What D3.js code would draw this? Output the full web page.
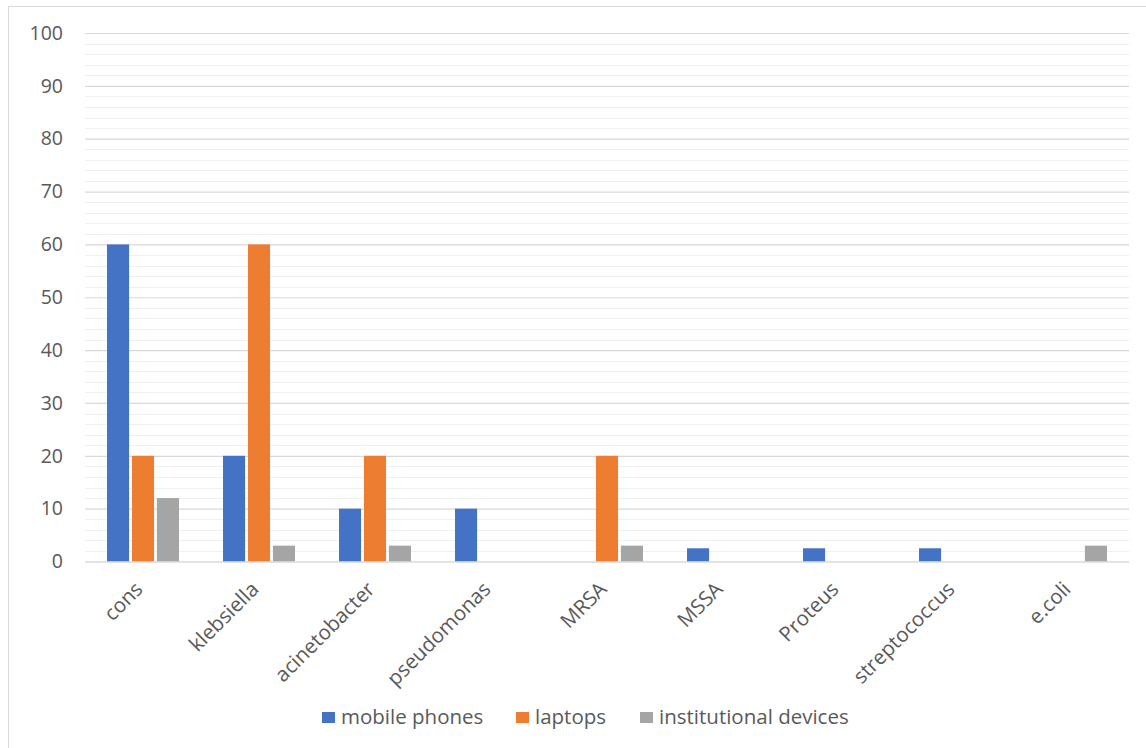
<!DOCTYPE html>
<html>
<head>
<meta charset="utf-8">
<script src="https://cdn.jsdelivr.net/npm/d3@7"></script>
<style>
  html, body { margin: 0; padding: 0; background: #fff; }
  svg { display: block; font-family: "Open Sans", "Liberation Sans", sans-serif; }
</style>
</head>
<body>
<svg id="chart" width="1146" height="748"></svg>
<script>
const categories = ["cons", "klebsiella", "acinetobacter", "pseudomonas", "MRSA", "MSSA", "Proteus", "streptococcus", "e.coli"];
const seriesNames = ["mobile phones", "laptops", "institutional devices"];
const mobilePhones = [60, 20, 10, 10, 0, 2.5, 2.5, 2.5, 0];
const laptops = [20, 60, 20, 0, 20, 0, 0, 0, 0];
const institutionalDevices = [12, 3, 3, 0, 3, 0, 0, 0, 3];
const yTicks = [0, 10, 20, 30, 40, 50, 60, 70, 80, 90, 100];
const seriesColors = ["#4472C4", "#ED7D31", "#A5A5A5"];

const seriesValues = [mobilePhones, laptops, institutionalDevices];
const data = categories.map((c, i) => ({ cat: c, vals: seriesValues.map((s, j) => ({ key: seriesNames[j], idx: j, v: s[i] })) }));

const svg = d3.select("#chart");
const W = 1146, H = 748;
const margin = { left: 85, right: 1146 - 1129, top: 33, bottom: 748 - 561.5 };

// chart border
svg.append("rect").attr("x", 8.5).attr("y", 6.5).attr("width", W + 10).attr("height", H + 10)
  .attr("fill", "none").attr("stroke", "#d9d9d9").attr("stroke-width", 1);

const x0 = d3.scaleBand().domain(categories).range([margin.left, W - margin.right])
  .paddingInner(0.33).paddingOuter(0.165);
const x1 = d3.scaleBand().domain(d3.range(seriesNames.length)).range([0, x0.bandwidth()]).padding(0.115);
const y = d3.scaleLinear().domain([0, 100]).range([H - margin.bottom, margin.top]);

// minor gridlines
const minor = d3.range(0, 101, 2).filter(v => v % 10 !== 0);
svg.append("g").selectAll("line").data(minor).join("line")
  .attr("x1", margin.left).attr("x2", W - margin.right)
  .attr("y1", d => Math.round(y(d)) + 0.5).attr("y2", d => Math.round(y(d)) + 0.5)
  .attr("stroke", "#f0f0f0").attr("stroke-width", 1);

// major gridlines + y labels via axis
const yAxis = d3.axisLeft(y).tickValues(yTicks).tickSize(-(W - margin.right - margin.left)).tickPadding(22);
const ya = svg.append("g").attr("transform", `translate(${margin.left},0)`).call(yAxis);
ya.select(".domain").remove();
ya.selectAll(".tick line").attr("stroke", "#d9d9d9").attr("stroke-width", 1.2);
ya.selectAll(".tick text").attr("fill", "#595959").style("font-size", "19.5px")
  .style("font-family", "'Open Sans', sans-serif");

// bars
const g = svg.append("g");
g.selectAll("g").data(data).join("g")
  .attr("transform", d => `translate(${x0(d.cat)},0)`)
  .selectAll("rect").data(d => d.vals.filter(e => e.v > 0)).join("rect")
  .attr("x", d => x1(d.idx)).attr("width", x1.bandwidth())
  .attr("y", d => y(d.v)).attr("height", d => y(0) - y(d.v))
  .attr("fill", d => seriesColors[d.idx]);

// x axis labels
const xAxis = d3.axisBottom(x0).tickSize(0).tickPadding(0);
const xa = svg.append("g").attr("transform", `translate(0,${y(0)})`).call(xAxis);
xa.select(".domain").attr("stroke", "#d9d9d9").attr("stroke-width", 1.2);
xa.selectAll(".tick text")
  .attr("fill", "#595959").style("font-size", "20.5px").style("font-family", "'Open Sans', sans-serif")
  .attr("text-anchor", "end").attr("dy", 0)
  .attr("transform", "translate(1,29) rotate(-45)");

// legend
const legendItems = seriesNames.map((n, i) => ({ n, i }));
const lg = svg.append("g");
const itemX = [322, 516, 640];
legendItems.forEach(d => {
  lg.append("rect").attr("x", itemX[d.i]).attr("y", 712).attr("width", 13).attr("height", 11).attr("fill", seriesColors[d.i]);
  lg.append("text").attr("x", itemX[d.i] + 19).attr("y", 724).text(d.n)
    .attr("fill", "#595959").style("font-size", "20.5px");
});
</script>
</body>
</html>
